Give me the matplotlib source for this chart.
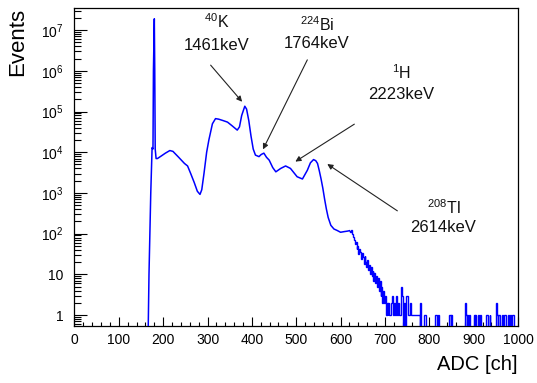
import numpy as np
import matplotlib
matplotlib.use("Agg")
import matplotlib.pyplot as plt
from matplotlib.ticker import FixedLocator, FixedFormatter, MultipleLocator, NullFormatter

plt.rcParams["font.family"] = ["Liberation Sans", "DejaVu Sans"]
plt.rcParams["mathtext.fontset"] = "custom"
plt.rcParams["mathtext.rm"] = "Liberation Sans"
plt.rcParams["mathtext.it"] = "Liberation Sans:italic"
plt.rcParams["mathtext.bf"] = "Liberation Sans:bold"

# ---- spectrum: smooth region (ADC channel, counts) ----
adc_smooth = [150, 166, 168, 170, 172, 175, 177, 178, 180, 181, 182, 184,
              187, 195, 205, 215, 222, 235, 248, 255, 262, 270, 277, 283,
              287, 292, 298, 303, 311, 318, 325, 335, 345, 355, 367, 372,
              377, 384, 388, 393, 398, 403, 408, 416, 421, 427, 433, 439,
              447, 454, 465, 476, 487, 502, 514, 525, 532, 539, 544, 548,
              552, 556, 560, 564, 568, 572, 578, 585, 592, 600, 608, 615, 620]
counts_smooth = [0, 0, 10, 100, 1000, 13000, 12000, 1.0e6, 1.9e7, 1.0e6, 12000, 7000,
                 7000, 8000, 9500, 11000, 10500, 7500, 5300, 4600, 3000, 1800, 1100, 920,
                 1200, 3000, 10000, 20000, 50000, 67000, 65000, 60000, 55000, 45000, 35000, 42000,
                 80000, 135000, 115000, 60000, 25000, 12000, 8500, 7800, 8800, 9500, 7500, 6400,
                 4200, 3300, 4000, 4600, 4000, 2500, 2200, 3600, 5500, 6600, 6200, 5300,
                 3500, 2200, 1300, 700, 400, 250, 160, 130, 120, 108, 112, 115, 118]

# ---- fluctuating region, 2-channel bins starting at 620 ----
noisy_start = 620
bin_width = 2
noisy_counts = [118, 110, 121, 96, 84, 68, 56, 63, 41, 49, 31, 43, 35, 24, 34,
                26, 18, 29, 20, 15, 22, 13, 17, 10, 15, 9, 12, 7, 11, 6,
                9, 5, 8, 4, 7, 3, 5, 2, 4, 2, 3, 1, 2]

# ---- sparse tail: bins with entries (left edge of 2-channel bin, counts) ----
tail_channels = [706, 708, 710, 712, 714, 716, 718, 720, 722, 724, 726, 728, 730,
                 732, 734, 736, 738, 742, 744, 748, 750, 752, 754, 756, 758, 760,
                 762, 764, 766, 768, 770, 772, 774, 776, 780, 788, 790, 814, 816,
                 820, 844, 846, 850, 880, 882, 886, 890, 900, 904, 910, 914, 928,
                 930, 936, 950, 952, 956, 958, 964, 968, 970, 978, 982, 986, 988]
tail_counts = [1, 2, 1, 1, 2, 3, 1, 2, 1, 1, 3, 1, 2,
               1, 1, 5, 3, 2, 2, 3, 3, 1, 1, 2, 1, 1,
               1, 1, 1, 1, 1, 1, 1, 1, 2, 1, 1, 1, 1,
               1, 1, 1, 1, 2, 1, 1, 1, 1, 1, 1, 1, 1,
               1, 1, 2, 1, 1, 1, 1, 1, 1, 1, 1, 1, 1]
axis_end = 1000

# ---- peak labels ----
label_names = [r"$^{40}$K", r"$^{224}$Bi", r"$^{1}$H", r"$^{208}$Tl"]
label_energies = ["1461keV", "1764keV", "2223keV", "2614keV"]

fig = plt.figure(figsize=(5.37, 3.83), dpi=100)
ax = fig.add_axes([0.1387, 0.1488, 0.8259, 0.8303])

floor = 0.3  # empty bins sit below the visible range
line_color = "#0000ff"

cs = np.array(counts_smooth, dtype=float)
cs[cs <= 0] = floor
ax.plot(adc_smooth, cs, color=line_color, lw=1.1, zorder=3)

# binned part: fluctuating region followed by the sparse tail
n_bins = (axis_end - noisy_start) // bin_width
binned = np.zeros(n_bins)
binned[:len(noisy_counts)] = noisy_counts
for ch, c in zip(tail_channels, tail_counts):
    binned[(ch - noisy_start) // bin_width] = c
binned[binned <= 0] = floor
edges = noisy_start + bin_width * np.arange(n_bins + 1)
ax.stairs(binned, edges, color=line_color, lw=1.0, baseline=None, zorder=3)

ax.set_yscale("log")
ax.set_xlim(0, 1000)
ax.set_ylim(0.537, 3.5e7)

# ticks
ax.xaxis.set_major_locator(MultipleLocator(100))
ax.xaxis.set_minor_locator(MultipleLocator(20))
decades = [10.0 ** k for k in range(0, 8)]
ax.yaxis.set_major_locator(FixedLocator(decades))
ax.yaxis.set_major_formatter(FixedFormatter(
    ["1", "10"] + [r"$10^{%d}$" % k for k in range(2, 8)]))
minors = [m * 10.0 ** k for k in range(-1, 8) for m in range(2, 10)]
ax.yaxis.set_minor_locator(FixedLocator(minors))
ax.yaxis.set_minor_formatter(NullFormatter())

ax.tick_params(axis="both", which="both", direction="in", top=False, right=False,
               labelsize=10, colors="black")
ax.tick_params(axis="x", which="major", length=6.7, width=0.8, pad=5)
ax.tick_params(axis="x", which="minor", length=3.0, width=0.8)
ax.tick_params(axis="y", which="major", length=9.5, width=0.8, pad=8)
ax.tick_params(axis="y", which="minor", length=5.0, width=0.8)
for s in ax.spines.values():
    s.set_linewidth(0.9)
    s.set_color("black")

ax.set_ylabel("Events", fontsize=16, loc="top")
ax.yaxis.set_label_coords(-0.105, 1.0)
ax.set_xlabel("ADC [ch]", fontsize=14.5, loc="right")
ax.xaxis.set_label_coords(1.0, -0.09)

# annotations: label text positions and arrows in data coordinates
name_pos = [(320, 10 ** 7.20), (547, 10 ** 7.13), (737, 10 ** 5.95), (832, 10 ** 2.65)]
energy_pos = [(320, 10 ** 6.63), (547, 10 ** 6.66), (737, 10 ** 5.41), (832, 10 ** 2.16)]
arrow_tail = [(307, 10 ** 6.14), (525, 10 ** 6.27), (631, 10 ** 4.69), (728, 10 ** 2.56)]
arrow_head = [(378, 10 ** 5.24), (425, 10 ** 4.07), (498, 10 ** 3.77), (570, 10 ** 3.71)]

for name, energy, p1, p2, t, h in zip(label_names, label_energies, name_pos,
                                      energy_pos, arrow_tail, arrow_head):
    ax.text(p1[0], p1[1], name, ha="center", va="center", fontsize=11.5, color="#111111")
    ax.text(p2[0], p2[1], energy, ha="center", va="center", fontsize=12, color="#111111")
    ax.annotate("", xy=h, xytext=t,
                arrowprops=dict(arrowstyle="-|>", color="#222222", lw=0.8,
                                mutation_scale=8, shrinkA=0, shrinkB=0))

fig.savefig("out.png", dpi=100)
